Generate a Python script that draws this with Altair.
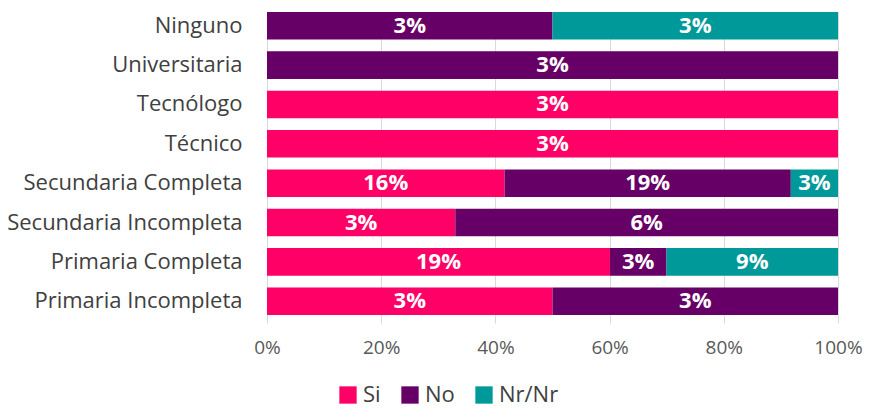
import altair as alt
import pandas as pd

categories = ["Ninguno", "Universitaria", "Tecnólogo", "Técnico",
              "Secundaria Completa", "Secundaria Incompleta",
              "Primaria Completa", "Primaria Incompleta"]
series = ["Si", "No", "Nr/Nr"]
si_vals = [0, 0, 3.1, 3.1, 15.6, 3.1, 18.8, 3.1]
no_vals = [3.1, 3.1, 0, 0, 18.8, 6.3, 3.1, 3.1]
nr_vals = [3.1, 0, 0, 0, 3.1, 0, 9.4, 0]
colors = ["#FF0066", "#660066", "#009999"]

rows = []
for i, c in enumerate(categories):
    for s, vals in zip(series, [si_vals, no_vals, nr_vals]):
        if vals[i] > 0:
            rows.append({"cat": c, "serie": s, "value": vals[i], "ord": series.index(s)})
df = pd.DataFrame(rows)

FONT = "Open Sans"

base = alt.Chart(df).transform_stack(
    stack="value", groupby=["cat"], as_=["x0", "x1"], offset="normalize",
    sort=[alt.SortField("ord", order="ascending")]
).transform_calculate(
    mid="(datum.x0 + datum.x1) / 2",
    label="format(datum.value / 100, '.0%')"
)

y_enc = alt.Y("cat:N", sort=categories, title=None,
              scale=alt.Scale(paddingInner=0.3, paddingOuter=0.0),
              axis=alt.Axis(labelFontSize=22, labelColor="#404040", labelFont=FONT,
                            labelLimit=400,
                            ticks=False, domain=True, domainColor="#D9D9D9",
                            labelPadding=25, grid=False))

bars = base.mark_bar().encode(
    x=alt.X("x0:Q", title=None, scale=alt.Scale(domain=[0, 1]),
            axis=alt.Axis(format=".0%", values=[0, 0.2, 0.4, 0.6, 0.8, 1.0],
                          labelFontSize=19, labelColor="#595959", labelFont=FONT,
                          labelFlush=False, labelBound=False,
                          grid=True, gridColor="#D9D9D9", tickColor="#D9D9D9",
                          tickSize=8, domain=False, labelPadding=15)),
    x2="x1:Q",
    y=y_enc,
    color=alt.Color("serie:N", scale=alt.Scale(domain=series, range=colors),
                    title=None,
                    legend=alt.Legend(orient="none", direction="horizontal",
                                      legendX=70, legendY=372,
                                      symbolType="square", symbolSize=300,
                                      labelFontSize=22, labelColor="#404040",
                                      labelFont=FONT, columnPadding=18,
                                      labelOffset=4,
                                      symbolStrokeWidth=0)),
)

texts = base.mark_text(fontSize=22, fontWeight="bold", color="white", font=FONT,
                       baseline="middle").encode(
    x=alt.X("mid:Q"),
    y=alt.Y("cat:N", sort=categories),
    text="label:N",
)

chart = alt.layer(bars, texts).properties(
    width=571, height=303,
    autosize=alt.AutoSizeParams(type="none"),
    padding={"left": 259, "top": 4, "right": 25, "bottom": 95},
).configure_view(stroke=None)

chart.save("out.html", embed_options={"renderer": "svg", "actions": False})
